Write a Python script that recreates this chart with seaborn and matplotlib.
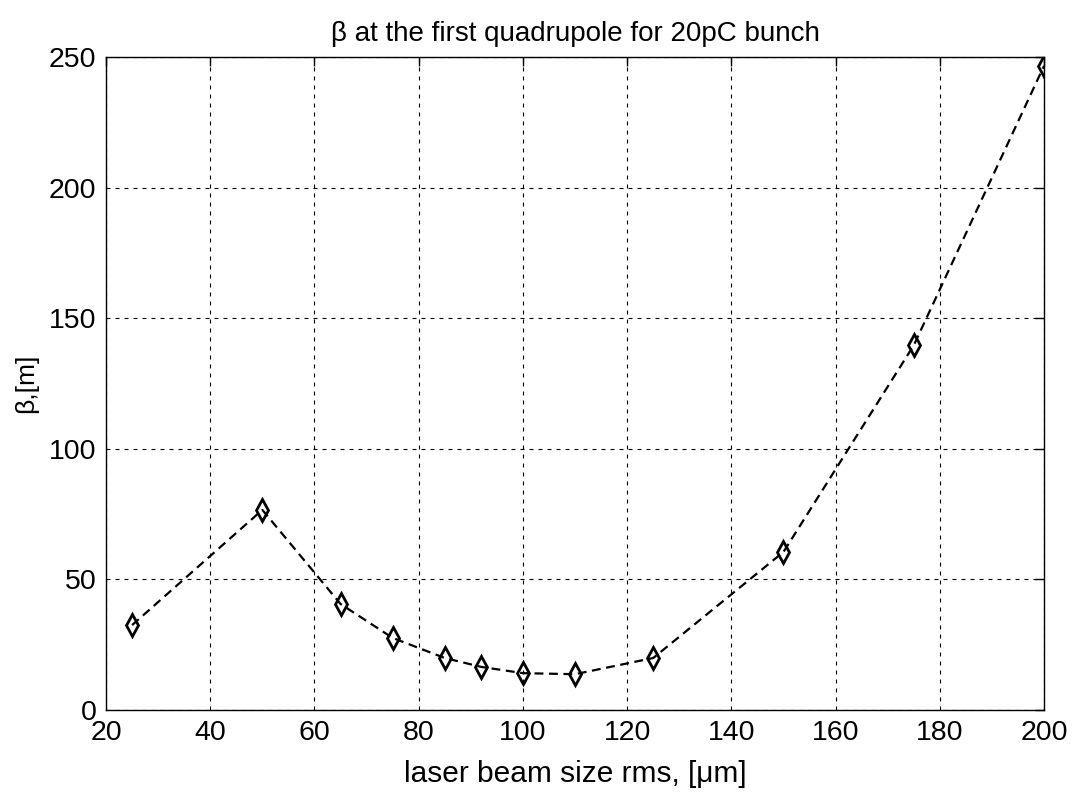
import matplotlib
matplotlib.use("Agg")
import matplotlib.pyplot as plt
import seaborn as sns
import pandas as pd

beam_size = [25, 50, 65, 75, 85, 92, 100, 110, 125, 150, 175, 200]
beta = [32.5, 76.6, 40.6, 27.6, 19.9, 16.5, 14.1, 13.7, 19.9, 60.5, 139.6, 246.6]
x_ticks = [20, 40, 60, 80, 100, 120, 140, 160, 180, 200]
y_ticks = [0, 50, 100, 150, 200, 250]

sns.set_theme(style="white")
plt.rcParams['font.family'] = ['Liberation Sans', 'DejaVu Sans']
plt.rcParams['text.color'] = 'black'
plt.rcParams['axes.labelcolor'] = 'black'

fig = plt.figure(figsize=(10.73, 7.99), dpi=100)
ax = fig.add_axes([0.0988, 0.1114, 0.8742, 0.8173])

df = pd.DataFrame({"x": beam_size, "y": beta})
sns.lineplot(data=df, x="x", y="y", ax=ax, color="black", linestyle=(0, (4, 2.5)),
             linewidth=1.6, marker="d", markersize=11, markerfacecolor="none",
             markeredgecolor="black", markeredgewidth=2.0)

ax.set_xlim(20, 200)
ax.set_ylim(0, 250)
ax.set_xticks(x_ticks)
ax.set_yticks(y_ticks)
ax.tick_params(direction="in", length=6.5, width=1, top=True, right=True,
               labelsize=20.5, colors="black", pad=7)
ax.grid(True, color="black", linestyle=(0, (3.6, 4.5)), linewidth=0.8)
for s in ax.spines.values():
    s.set_color("black")
    s.set_linewidth(1.0)

ax.set_xlabel("laser beam size rms, [μm]", fontsize=21.5, labelpad=10, color="black")
ax.set_ylabel("β,[m]", fontsize=19, labelpad=8, color="black")
ax.set_title("β at the first quadrupole for 20pC bunch", fontsize=20, pad=11.5, color="black")

fig.savefig("out.png", dpi=100, facecolor="white")
